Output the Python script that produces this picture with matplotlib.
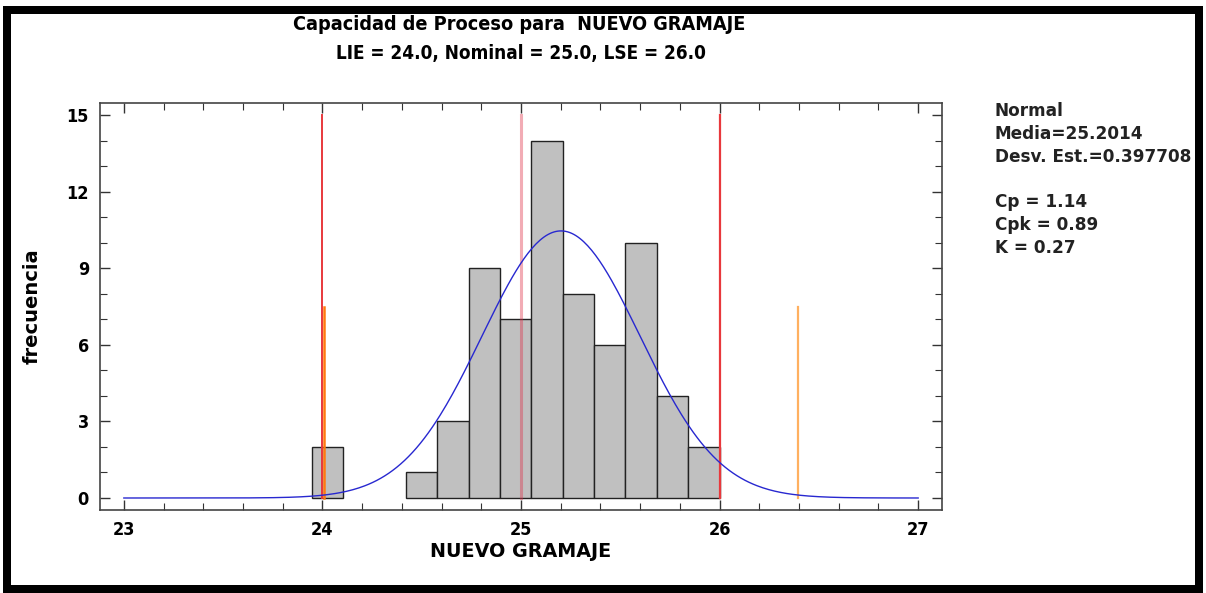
import numpy as np
import matplotlib
matplotlib.use("Agg")
import matplotlib.pyplot as plt
from matplotlib.font_manager import FontProperties
from matplotlib.patches import Rectangle
from matplotlib.ticker import MultipleLocator

# Histogram of NUEVO GRAMAJE
bin_edges = [23.946, 24.104, 24.262, 24.420, 24.578, 24.736, 24.894,
             25.052, 25.210, 25.368, 25.526, 25.684, 25.842, 26.000]
counts = [2, 0, 0, 1, 3, 9, 7, 14, 8, 6, 10, 4, 2]

# Fitted normal distribution and specification limits
mean = 25.2014
std = 0.397708
lie, nominal, lse = 24.0, 25.0, 26.0
cp, cpk, k_index = 1.14, 0.89, 0.27

plt.rcParams["font.family"] = ["DejaVu Sans"]


def cond(size):
    return FontProperties(family="DejaVu Sans", weight="bold",
                          stretch="condensed", size=size)


def wide(size):
    return FontProperties(family="DejaVu Sans", weight="bold", size=size)


W, H = 1206, 593
fig = plt.figure(figsize=(W / 100, H / 100), dpi=100)
ax = fig.add_axes([100 / W, 1 - 510 / H, 842 / W, 407 / H])

lefts = [e for e, c in zip(bin_edges[:-1], counts) if c > 0]
rights = [e for e, c in zip(bin_edges[1:], counts) if c > 0]
heights = [c for c in counts if c > 0]
ax.bar(lefts, heights, width=np.subtract(rights, lefts), align="edge",
       color="#c0c0c0", edgecolor="#222222", linewidth=1.0, zorder=2)

# Normal curve scaled to counts
n = sum(counts)
bw = float(np.mean(np.diff(bin_edges)))
xs = np.linspace(23.0, 27.0, 400)
ys = n * bw * np.exp(-0.5 * ((xs - mean) / std) ** 2) / (std * np.sqrt(2 * np.pi))
ax.plot(xs, ys, color="#2828d0", linewidth=1.0, zorder=4)

# Specification lines
ax.plot([lie, lie], [0, 15], color="#e8383c", linewidth=1.4, zorder=3)
ax.plot([lse, lse], [0, 15], color="#e8383c", linewidth=1.6, zorder=3)
ax.plot([nominal, nominal], [0, 15], color="#e03048", linewidth=2.2,
        alpha=0.4, zorder=3)

# +/- 3 sigma lines
ax.plot([mean - 3 * std] * 2, [0, 7.5], color="#ff7a10", linewidth=1.8, zorder=3)
ax.plot([mean + 3 * std] * 2, [0, 7.5], color="#ffb060", linewidth=1.6, zorder=3)

ax.set_xlim(22.88, 27.12)
ax.set_ylim(-0.47, 15.47)
ax.xaxis.set_major_locator(MultipleLocator(1))
ax.xaxis.set_minor_locator(MultipleLocator(0.2))
ax.yaxis.set_major_locator(MultipleLocator(3))
ax.yaxis.set_minor_locator(MultipleLocator(1))
ax.tick_params(which="both", direction="in", top=True, right=True,
               color="#333333")
ax.tick_params(which="major", length=7, width=1.0, pad=8)
ax.tick_params(which="minor", length=5, width=0.8)
for sp in ax.spines.values():
    sp.set_color("#444444")
    sp.set_linewidth(1.2)

tick_fp = cond(13)
for lab in ax.get_xticklabels() + ax.get_yticklabels():
    lab.set_fontproperties(tick_fp)

ax.set_xlabel("NUEVO GRAMAJE", fontproperties=wide(13.8), labelpad=2)
ax.set_ylabel("frecuencia", fontproperties=wide(14), labelpad=18)

fig.text(519 / W, 1 - 24 / H, "Capacidad de Proceso para  NUEVO GRAMAJE",
         ha="center", va="center", fontproperties=cond(14.2))
fig.text(521 / W, 1 - 54 / H, "LIE = 24.0, Nominal = 25.0, LSE = 26.0",
         ha="center", va="center", fontproperties=cond(13.6))

side = ["Normal", f"Media={mean}", f"Desv. Est.={std}", "",
        f"Cp = {cp:.2f}", f"Cpk = {cpk:.2f}", f"K = {k_index:.2f}"]
for i, line in enumerate(side):
    fig.text(995 / W, 1 - (111 + 22.8 * i) / H, line, ha="left",
             va="center", fontproperties=wide(12.2), color="#222222")

# Outer frame
for x0, y0, w, h in [(3, 6, 8, 587), (1195, 6, 8, 587),
                     (3, 6, 1200, 8), (3, 585, 1200, 8)]:
    fig.patches.append(Rectangle((x0 / W, 1 - (y0 + h) / H), w / W, h / H,
                                 transform=fig.transFigure, facecolor="black",
                                 edgecolor="none"))

fig.savefig("out.png", dpi=100)
